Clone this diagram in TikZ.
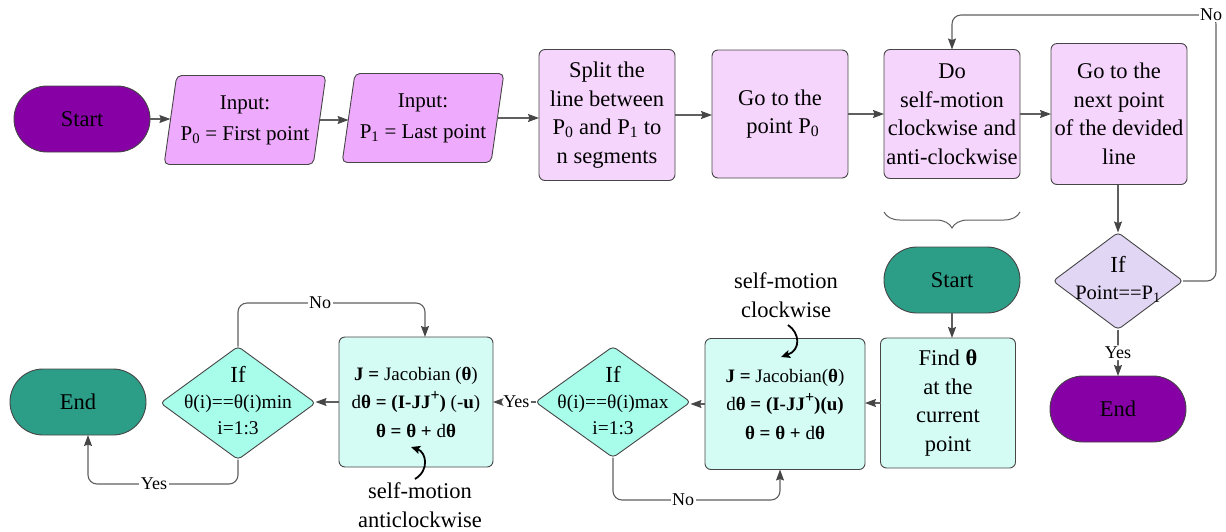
\documentclass[tikz,border=0pt]{standalone}
\usepackage{fontspec}
\setmainfont{Liberation Serif}
\usetikzlibrary{shapes.geometric,shapes.misc,arrows.meta,decorations.pathreplacing}

\definecolor{deeppurple}{RGB}{134,0,166}
\definecolor{inputpink}{RGB}{238,170,252}
\definecolor{lightpink}{RGB}{246,213,253}
\definecolor{lavender}{RGB}{226,214,245}
\definecolor{teal}{RGB}{44,158,136}
\definecolor{lightcyan}{RGB}{212,252,244}
\definecolor{aqua}{RGB}{168,252,234}
\definecolor{edgegray}{RGB}{70,70,70}
\definecolor{linegray}{RGB}{95,95,95}

% raised bold plus sign for the pseudo-inverse
\newcommand{\pinvplus}{\raisebox{0.42em}{\fontsize{16}{16}\selectfont\textbf{+}}}

\begin{document}
\begin{tikzpicture}[x=1pt,y=-1pt,
  every node/.style={inner sep=0pt, outer sep=0pt},
  bigtxt/.style={font=\fontsize{22.5}{28.5}\selectfont},
  midtxt/.style={font=\fontsize{21}{31}\selectfont},
  smalltxt/.style={font=\fontsize{19}{28.5}\selectfont},
  labtxt/.style={font=\fontsize{18}{20}\selectfont, fill=white, inner sep=1.5pt},
  shapeline/.style={draw=edgegray, line width=0.9pt},
  terminal/.style={shapeline, rounded rectangle, minimum width=136pt, minimum height=66pt, bigtxt},
  procbox/.style={shapeline, rectangle, rounded corners=6pt, align=center, bigtxt},
  iobox/.style={shapeline, trapezium, trapezium left angle=77, trapezium right angle=103,
    trapezium stretches=true, minimum width=162pt, minimum height=89pt,
    rounded corners=5pt, align=center, midtxt, inner sep=2pt},
  decision/.style={shapeline, diamond, rounded corners=4pt},
  conn/.style={draw=linegray, line width=1.1pt, rounded corners=9pt,
    -{Stealth[length=11pt,width=8pt,inset=1.5pt,color=edgegray]}},
  curvedarrow/.style={draw=black, line width=1.8pt,
    -{Stealth[length=9pt,width=8pt,inset=1.5pt]}},
  bracket/.style={draw=linegray, line width=1pt,
    decorate, decoration={brace, mirror, amplitude=16pt, aspect=0.5}}
]
\useasboundingbox (0,0) rectangle (1226,531);

% ---------- top row ----------
\node[terminal, fill=deeppurple] (startA) at (82,119) {Start};
\node[iobox, fill=inputpink] (in0) at (245,120) {Input:\\P\textsubscript{0} = First point};
\node[iobox, fill=inputpink] (in1) at (423,118) {Input:\\P\textsubscript{1} = Last point};
\node[procbox, fill=lightpink, minimum width=136pt, minimum height=131pt] (split) at (607,115)
  {Split the\\line between\\P\textsubscript{0} and P\textsubscript{1} to\\n segments};
\node[procbox, fill=lightpink, minimum width=136pt, minimum height=128pt] (gop) at (780,114)
  {Go to the\\\ point P\textsubscript{0}};
\node[procbox, fill=lightpink, minimum width=136pt, minimum height=129pt] (dosm) at (952,114)
  {Do\\self-motion\\clockwise and\\anti-clockwise};
\node[procbox, fill=lightpink, minimum width=136pt, minimum height=141pt] (nextpt) at (1119,114)
  {Go to the\\next point\\of the devided\\line};

% ---------- right column ----------
\node[decision, fill=lavender, minimum width=130pt, minimum height=97pt] (ifp) at (1118,281) {};
\node[align=center, font=\fontsize{20.5}{27}\selectfont] (ifptxt) at (1118,279)
  {{\fontsize{23}{27}\selectfont If}\\Point==P\textsubscript{1}};
\node[terminal, fill=deeppurple] (endA) at (1118,409) {End};

% ---------- brace and inner loop ----------
\draw[bracket] (dosm.south west |- 0,212) coordinate (brl) -- (dosm.south east |- 0,212) coordinate (brr);
\node[terminal, fill=teal] (startB) at (952,280) {Start};
\node[procbox, fill=lightcyan, minimum width=135pt, minimum height=130pt] (find) at (948,403)
  {Find \textbf{θ}\\at the\\current\\point};
\node[procbox, fill=lightcyan, minimum width=160pt, minimum height=131pt, smalltxt] (jcw) at (785,404)
  {\textbf{J =} Jacobian(\textbf{θ})\\d\textbf{θ = (I-JJ\pinvplus)(u)}\\\textbf{θ = θ +} d\textbf{θ}};
\node[decision, fill=aqua, minimum width=155pt, minimum height=111pt] (ifmax) at (613,402) {};
\node[align=center, font=\fontsize{19.5}{26}\selectfont] (ifmaxtxt) at (613,401)
  {{\fontsize{23}{26}\selectfont If}\\θ(i)==θ(i)max\\i=1:3};
\node[procbox, fill=lightcyan, minimum width=154pt, minimum height=130pt, smalltxt] (jacw) at (416,402)
  {\textbf{J =} Jacobian (\textbf{θ})\\d\textbf{θ = (I-JJ\pinvplus)} (-\textbf{u})\\\textbf{θ = θ +} d\textbf{θ}};
\node[decision, fill=aqua, minimum width=155pt, minimum height=113pt] (ifmin) at (238,403) {};
\node[align=center, font=\fontsize{19.5}{26}\selectfont] (ifmintxt) at (238,401)
  {{\fontsize{23}{26}\selectfont If}\\θ(i)==θ(i)min\\i=1:3};
\node[terminal, fill=teal] (endB) at (78,402) {End};

% ---------- annotations ----------
\node[align=center, bigtxt] (lblcw) at (786,295) {self-motion\\clockwise};
\node[align=center, bigtxt] (lblacw) at (420,505) {self-motion\\anticlockwise};
\coordinate (cwtail) at (788,325);
\coordinate (cwtip) at (781,357);
\coordinate (acwtail) at (415,479);
\coordinate (acwtip) at (411,447);
\draw[curvedarrow] (cwtail) .. controls (800,333) and (801,350) .. (cwtip);
\draw[curvedarrow] (acwtail) .. controls (430,470) and (426,452) .. (acwtip);

% ---------- connectors: top row ----------
\draw[conn] (startA.east) -- (startA.east -| in0.west);
\draw[conn] (in0.east) -- (in0.east -| in1.west);
\draw[conn] (in1.east) -- (in1.east -| split.west);
\draw[conn] (split.east) -- (split.east -| gop.west);
\draw[conn] (gop.east) -- (gop.east -| dosm.west);
\draw[conn] (dosm.east) -- (dosm.east -| nextpt.west);
\draw[conn] (nextpt.south -| ifp.north) -- (ifp.north);

% loop back when the last point is not reached
\coordinate (nocorner) at (1216,15);
\draw[conn] (ifp.east) -| (nocorner) -| (dosm.north);
\node[labtxt] (nolabA) at (1211,15) {No};
\draw[conn] (ifp.south) -- node[labtxt] (yeslabA) {Yes} (endA.north);

% ---------- connectors: inner loop ----------
\draw[conn] (startB.south) -- (startB.south |- find.north);
\draw[conn] (find.west) -- (find.west -| jcw.east);
\draw[conn] (jcw.west) -- (jcw.west -| ifmax.east);
\draw[conn] (ifmax.west) -- node[labtxt, pos=0.45] (yeslabB) {Yes} (ifmax.west -| jacw.east);
\draw[conn] (jacw.west) -- (jacw.west -| ifmin.east);

\coordinate (maxno) at (780,500);
\draw[conn] (ifmax.south) |- (maxno) -- (maxno |- jcw.south);
\node[labtxt] (nolabB) at (683,500) {No};

\coordinate (minno) at (425,303);
\draw[conn] (ifmin.north) |- (minno) -- (minno |- jacw.north);
\node[labtxt] (nolabC) at (320,303) {No};

\coordinate (minyes) at (88,484);
\draw[conn] (ifmin.south) |- (minyes) -- (minyes |- endB.south);
\node[labtxt] (yeslabC) at (154,484) {Yes};
\end{tikzpicture}
\end{document}
